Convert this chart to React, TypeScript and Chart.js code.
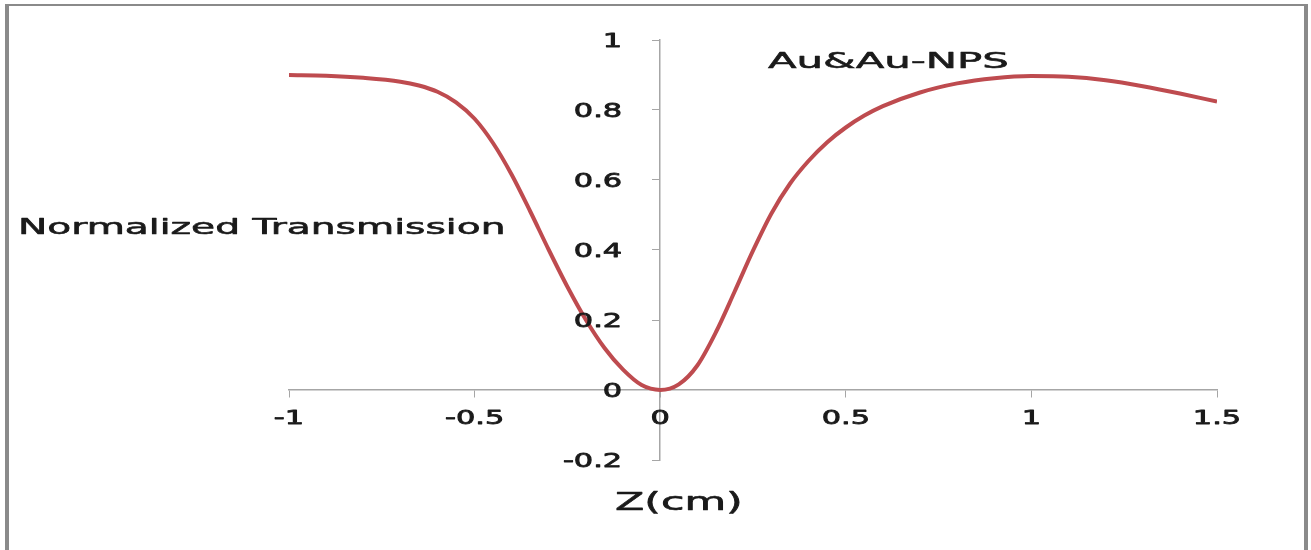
import React, { useEffect, useRef } from "react";
import { Chart, registerables } from "chart.js";

Chart.register(...registerables);

// Data
const zValues = [
  -1.0, -0.9, -0.8, -0.7, -0.65, -0.6, -0.55, -0.5, -0.45, -0.4, -0.35, -0.3, -0.25, -0.2, -0.15, -0.1, -0.05,
  0.0, 0.05, 0.1, 0.15, 0.2, 0.25, 0.3, 0.35, 0.4, 0.45, 0.5, 0.55, 0.6, 0.7, 0.8, 0.9, 1.0, 1.1, 1.2, 1.3, 1.4, 1.5,
];
const transmission = [
  0.9, 0.898, 0.892, 0.881, 0.87, 0.852, 0.822, 0.775, 0.705, 0.615, 0.51, 0.4, 0.295, 0.2, 0.12, 0.058, 0.014,
  0.0, 0.016, 0.07, 0.165, 0.28, 0.398, 0.505, 0.59, 0.655, 0.708, 0.75, 0.784, 0.811, 0.85, 0.876, 0.891, 0.897, 0.895, 0.885, 0.868, 0.847, 0.824,
];
const xTickLabels = ["-1", "-0.5", "0", "0.5", "1", "1.5"];
const yTickLabels = ["-0.2", "0", "0.2", "0.4", "0.6", "0.8", "1"];
const xAxisTitle = "Z(cm)";
const yAxisTitle = "Normalized Transmission";
const seriesName = "Au&Au-NPS";

const FONT = "'DejaVu Sans', Verdana, sans-serif";

function drawStretched(
  ctx: CanvasRenderingContext2D,
  text: string,
  x: number,
  y: number,
  align: CanvasTextAlign,
  sx: number,
  font: string,
  stroke: number
) {
  ctx.save();
  ctx.translate(x, y);
  ctx.scale(sx, 1);
  ctx.font = font;
  ctx.textAlign = align;
  ctx.textBaseline = "alphabetic";
  ctx.fillText(text, 0, 0);
  if (stroke > 0) {
    ctx.lineWidth = stroke;
    ctx.lineJoin = "round";
    ctx.strokeText(text, 0, 0);
  }
  ctx.restore();
}

const decorPlugin = {
  id: "decor",
  beforeDraw(chart: any) {
    const ctx = chart.ctx as CanvasRenderingContext2D;
    ctx.save();
    ctx.fillStyle = "#ffffff";
    ctx.fillRect(0, 0, chart.width, chart.height);
    ctx.fillStyle = "#8a8a8a";
    ctx.fillRect(5, 4, 4, chart.height - 4);
    ctx.fillRect(5, 4, 1304 - 5, 2);
    ctx.fillRect(1304, 4, 4, chart.height - 4);
    ctx.restore();
  },
  afterDraw(chart: any) {
    const ctx = chart.ctx as CanvasRenderingContext2D;
    const xs = chart.scales.x;
    const ys = chart.scales.y;
    const axisY = ys.getPixelForValue(0);
    const axisX = xs.getPixelForValue(0);
    ctx.save();
    ctx.fillStyle = "#1a1a1a";
    ctx.strokeStyle = "#1a1a1a";
    const tickFont = `19px ${FONT}`;
    yTickLabels.forEach((l) => {
      drawStretched(ctx, l, axisX - 38, ys.getPixelForValue(parseFloat(l)) + 7, "right", 1.6, tickFont, 0.8);
    });
    xTickLabels.forEach((l) => {
      drawStretched(ctx, l, xs.getPixelForValue(parseFloat(l)), axisY + 34, "center", 1.6, tickFont, 0.8);
    });
    drawStretched(ctx, yAxisTitle, 18, 234, "left", 1.78, `22px ${FONT}`, 0.6);
    drawStretched(ctx, xAxisTitle, 615, 510, "left", 1.71, `25px ${FONT}`, 0.6);
    drawStretched(ctx, seriesName, 768, 68, "left", 1.9, `22px ${FONT}`, 0.6);
    ctx.restore();
  },
};

export default function App() {
  const ref = useRef<HTMLCanvasElement | null>(null);

  useEffect(() => {
    if (!ref.current) return;
    const data = zValues.map((z, i) => ({ x: z, y: transmission[i] }));
    const chart = new Chart(ref.current, {
      type: "line",
      data: {
        datasets: [
          {
            label: seriesName,
            data,
            borderColor: "#BE4B4F",
            borderWidth: 4,
            pointRadius: 0,
            fill: false,
            cubicInterpolationMode: "monotone",
          },
        ],
      },
      options: {
        responsive: false,
        animation: false,
        devicePixelRatio: 1,
        layout: { padding: { left: 289, right: 94, top: 40, bottom: 90 } },
        plugins: {
          legend: { display: false },
          tooltip: { enabled: false },
        },
        scales: {
          x: {
            type: "linear",
            min: -1,
            max: 1.5,
            position: { y: 0 } as any,
            afterBuildTicks: (scale: any) => {
              scale.ticks = xTickLabels.map((l) => ({ value: parseFloat(l) }));
            },
            ticks: { display: false },
            grid: {
              display: true,
              drawOnChartArea: false,
              drawTicks: true,
              tickLength: 7,
              color: "#a6a6a6",
              lineWidth: 1,
            },
            border: { display: true, color: "#a6a6a6", width: 1.5 },
          },
          y: {
            type: "linear",
            min: -0.2,
            max: 1,
            position: { x: 0 } as any,
            afterBuildTicks: (scale: any) => {
              scale.ticks = yTickLabels.map((l) => ({ value: parseFloat(l) }));
            },
            ticks: { display: false },
            grid: {
              display: true,
              drawOnChartArea: false,
              drawTicks: true,
              tickLength: 7,
              color: "#a6a6a6",
              lineWidth: 1,
            },
            border: { display: true, color: "#a6a6a6", width: 1.5 },
          },
        },
      },
      plugins: [decorPlugin],
    });
    return () => chart.destroy();
  }, []);

  return (
    <div style={{ position: "absolute", left: 0, top: 0, width: 1311, height: 550, background: "#fff" }}>
      <canvas ref={ref} width={1311} height={550} style={{ display: "block" }} />
    </div>
  );
}
